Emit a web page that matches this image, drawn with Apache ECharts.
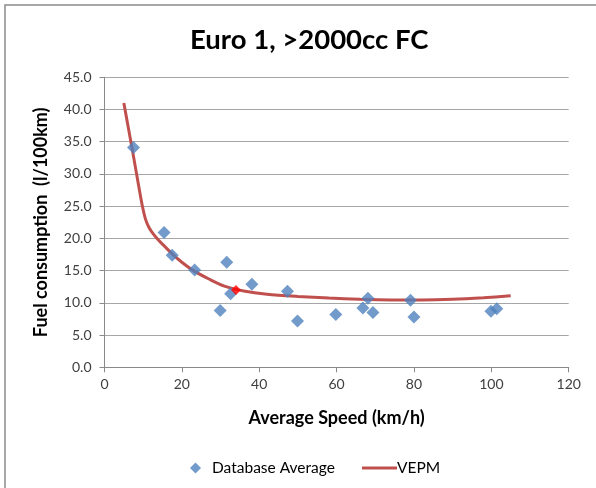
<!DOCTYPE html>
<html>
<head>
<meta charset="utf-8">
<script src="https://cdn.jsdelivr.net/npm/echarts@6/dist/echarts.min.js"></script>
<style>
  html, body { margin: 0; padding: 0; background: #fff; }
  #chart { width: 596px; height: 488px; }
</style>
</head>
<body>
<div id="chart"></div>
<script>
// Measured averages per speed bin (km/h, l/100km)
const dbSpeed = [7.5, 15.4, 17.5, 23.3, 29.9, 31.6, 32.6, 38.1, 47.3, 49.9, 59.8, 66.8, 68.1, 69.4, 79.1, 80.0, 99.9, 101.4];
const dbFuel  = [34.1, 20.9, 17.4, 15.1, 8.8, 16.3, 11.4, 12.9, 11.8, 7.2, 8.2, 9.2, 10.7, 8.5, 10.4, 7.8, 8.7, 9.1];

// Highlighted reference point
const refSpeed = [34.0];
const refFuel  = [12.0];

// VEPM model curve
const vepmSpeed = [5, 6, 7, 8, 9, 9.8, 10.6, 11.5, 12.6, 14, 15.5, 17.5, 20, 23, 27, 31, 36, 42, 50, 58, 66, 74, 82, 90, 98, 105];
const vepmFuel  = [41.0, 37.7, 34.4, 31.0, 27.6, 25.0, 23.0, 21.7, 20.7, 19.7, 18.8, 17.6, 16.3, 15.0, 13.7, 12.6, 11.85, 11.35, 11.0, 10.75, 10.55, 10.45, 10.45, 10.55, 10.8, 11.1];

const yTicks = [0, 5, 10, 15, 20, 25, 30, 35, 40, 45];

const zip = (a, b) => a.map((v, i) => [v, b[i]]);
const FONT = 'Lato, "Open Sans", sans-serif';

const chart = echarts.init(document.getElementById('chart'), null, { renderer: 'canvas' });
chart.setOption({
  animation: false,
  backgroundColor: '#ffffff',
  textStyle: { fontFamily: FONT },
  title: {
    text: 'Euro 1, >2000cc FC',
    left: 185,
    top: 21,
    textStyle: { fontFamily: FONT, fontSize: 27.5, fontWeight: 'bold', color: '#000' }
  },
  graphic: [{
    type: 'rect',
    shape: { x: 5, y: 5, width: 800, height: 800 },
    style: { fill: 'none', stroke: '#8a8a8a', lineWidth: 1.5 },
    silent: true
  }],
  grid: { left: 104.5, right: 27.3, top: 77.3, bottom: 120.7, containLabel: false },
  xAxis: {
    type: 'value',
    min: 0, max: 120, interval: 20,
    name: 'Average Speed (km/h)',
    nameLocation: 'middle',
    nameGap: 42,
    nameTextStyle: { fontFamily: FONT, fontSize: 18, fontWeight: 'bold', color: '#000' },
    axisLine: { show: true, onZero: false, lineStyle: { color: '#8a8a8a', width: 1 } },
    axisTick: { show: true, inside: false, length: 5, lineStyle: { color: '#8a8a8a' } },
    axisLabel: { fontFamily: FONT, fontSize: 14, color: '#404040', margin: 10 },
    splitLine: { show: false }
  },
  yAxis: {
    type: 'value',
    min: 0, max: 45, interval: 5,
    name: 'Fuel consumption  (l/100km)',
    nameLocation: 'middle',
    nameGap: 54,
    nameTextStyle: { fontFamily: FONT, fontSize: 18, fontWeight: 'bold', color: '#000' },
    axisLine: { show: true, lineStyle: { color: '#8a8a8a', width: 1 } },
    axisTick: { show: true, inside: false, length: 5, lineStyle: { color: '#8a8a8a' } },
    axisLabel: {
      fontFamily: FONT, fontSize: 14, color: '#404040', margin: 13,
      formatter: v => yTicks.includes(v) ? v.toFixed(1) : ''
    },
    splitLine: { show: true, lineStyle: { color: '#a6a6a6', width: 1 } }
  },
  legend: [{
    data: [{ name: 'Database Average', icon: 'diamond' }],
    left: 185, top: 455,
    itemWidth: 11, itemHeight: 11, itemGap: 10,
    textStyle: { fontFamily: FONT, fontSize: 15.5, color: '#000', padding: [0, 0, 0, 6] }
  }, {
    data: [{ name: 'VEPM', icon: 'rect' }],
    left: 357, top: 455,
    itemWidth: 35, itemHeight: 3,
    textStyle: { fontFamily: FONT, fontSize: 15.5, color: '#000', padding: [0, 0, 0, -5] }
  }],
  series: [{
    name: 'VEPM',
    type: 'line',
    data: zip(vepmSpeed, vepmFuel),
    smooth: 0.3,
    showSymbol: false,
    lineStyle: { color: '#c0504d', width: 3 },
    itemStyle: { color: '#c0504d' },
    z: 2
  }, {
    name: 'Database Average',
    type: 'scatter',
    data: zip(dbSpeed, dbFuel),
    symbol: 'diamond',
    symbolSize: 13,
    itemStyle: { color: '#4f81bd' },
    z: 3
  }, {
    name: 'Reference',
    type: 'scatter',
    data: zip(refSpeed, refFuel),
    symbol: 'diamond',
    symbolSize: 10,
    itemStyle: { color: '#ff0000' },
    z: 4
  }]
});
</script>
</body>
</html>
